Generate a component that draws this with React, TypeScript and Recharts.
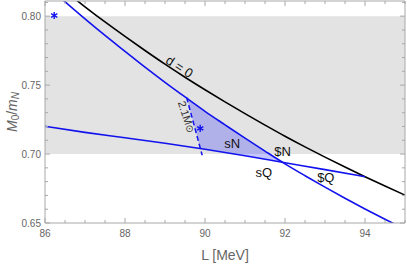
import React from 'react';
import { ComposedChart, Line, Area, Scatter, XAxis, YAxis, ReferenceArea } from 'recharts';

// ---- data ----
const xTicks = [86, 86.5, 87, 87.5, 88, 88.5, 89, 89.5, 90, 90.5, 91, 91.5, 92, 92.5, 93, 93.5, 94, 94.5, 95];
const xMajor = [86, 88, 90, 92, 94];
const yTicks = [0.65, 0.66, 0.67, 0.68, 0.69, 0.7, 0.71, 0.72, 0.73, 0.74, 0.75, 0.76, 0.77, 0.78, 0.79, 0.8, 0.81];
const yMajor = [0.65, 0.7, 0.75, 0.8];
const bandY = [0.7, 0.8];

// d = 0 curve (black)
const blackL = [86.7, 87, 87.5, 88, 88.5, 89, 89.5, 90, 90.5, 91, 91.5, 92, 92.5, 93, 93.5, 94, 94.5, 95];
const blackM = [0.8136, 0.8068, 0.7958, 0.7853, 0.7751, 0.7652, 0.7557, 0.7466, 0.7378, 0.7293, 0.721, 0.7129, 0.7052, 0.6978, 0.6906, 0.6836, 0.6768, 0.6702];

// steep blue curve
const steepL = [86.4, 87, 87.5, 88, 88.5, 89, 89.5, 90, 90.5, 91, 91.5, 92, 92.5, 93, 93.5, 94, 94.5, 95];
const steepM = [0.813, 0.798, 0.786, 0.7745, 0.763, 0.752, 0.7414, 0.731, 0.7212, 0.7115, 0.7021, 0.6929, 0.6843, 0.676, 0.668, 0.6602, 0.6527, 0.6455];

// flat blue curve (ends on the d = 0 curve)
const flatL = [86, 87, 88, 89, 90, 91, 91.93, 93, 94];
const flatM = [0.7201, 0.7157, 0.7118, 0.7078, 0.7035, 0.6988, 0.6941, 0.6887, 0.6836];

// 2.1 M_sun dashed line
const dashL = [89.54, 89.93];
const dashM = [0.7411, 0.6991];

// shaded region (lower / upper bound)
const shadeL = [89.55, 89.885, 90, 90.5, 91, 91.5, 91.93];
const shadeLo = [0.7405, 0.7041, 0.7035, 0.7012, 0.6988, 0.6963, 0.6941];
const shadeHi = [0.7405, 0.7334, 0.731, 0.7212, 0.7115, 0.7021, 0.6941];

// star markers
const starL = [86.23, 89.88];
const starM = [0.8005, 0.7186];

// text labels
const labelText = ['d = 0', '2.1M', 'sN', '$N', 'sQ', '$Q'];
const labelL = [89.36, 89.54, 90.68, 91.94, 91.47, 93.02];
const labelM = [0.7633, 0.727, 0.7078, 0.702, 0.6864, 0.6828];

// ---- styles ----
const BLUE = '#1212ee';
const FRAME = '#a8a8a8';
const TICKTXT = '#666';
const labelRotation: Record<string, number> = { 'd = 0': 33, '2.1M': 72 };
const labelSize: Record<string, number> = { '2.1M': 11 };

const pts = (xs: number[], ys: number[]) => xs.map((x, i) => ({ x, y: ys[i] }));
const blackData = pts(blackL, blackM);
const steepData = pts(steepL, steepM);
const flatData = pts(flatL, flatM);
const dashData = pts(dashL, dashM);
const starData = pts(starL, starM);
const shadeData = shadeL.map((x, i) => ({ x, range: [shadeLo[i], shadeHi[i]] }));
const labelData = labelText.map((t, i) => ({ x: labelL[i], y: labelM[i], t }));

const isMajor = (arr: number[], v: number) => arr.some((m) => Math.abs(m - v) < 1e-6);

const BottomTick = (p: any) => {
  const { x, y, payload } = p;
  const major = isMajor(xMajor, payload.value);
  return (
    <g>
      <line x1={x} x2={x} y1={y} y2={y - (major ? 5 : 3)} stroke={FRAME} />
      {major && (
        <text x={x} y={y + 14} textAnchor="middle" fontSize={10} fill={TICKTXT}>
          {payload.value}
        </text>
      )}
    </g>
  );
};
const TopTick = (p: any) => {
  const { x, y, payload } = p;
  const major = isMajor(xMajor, payload.value);
  return <line x1={x} x2={x} y1={y} y2={y + (major ? 5 : 3)} stroke={FRAME} />;
};
const LeftTick = (p: any) => {
  const { x, y, payload } = p;
  const major = isMajor(yMajor, payload.value);
  return (
    <g>
      <line x1={x} x2={x + (major ? 5 : 3)} y1={y} y2={y} stroke={FRAME} />
      {major && (
        <text x={x - 4} y={y + 3.5} textAnchor="end" fontSize={10} fill={TICKTXT}>
          {payload.value.toFixed(2)}
        </text>
      )}
    </g>
  );
};
const RightTick = (p: any) => {
  const { x, y, payload } = p;
  const major = isMajor(yMajor, payload.value);
  return <line x1={x} x2={x - (major ? 5 : 3)} y1={y} y2={y} stroke={FRAME} />;
};

const YLabel = (p: any) => {
  const vb = p.viewBox || { x: 0, y: 1, width: 45, height: 222 };
  const cx = vb.x + 12;
  const cy = vb.y + vb.height / 2;
  return (
    <text
      x={cx}
      y={cy}
      transform={`rotate(-90, ${cx}, ${cy})`}
      textAnchor="middle"
      dominantBaseline="central"
      fontSize={14}
      fill={TICKTXT}
    >
      <tspan fontStyle="italic">M</tspan>
      <tspan fontSize={10} dy={3}>0</tspan>
      <tspan dy={-3}>/</tspan>
      <tspan fontStyle="italic">m</tspan>
      <tspan fontSize={10} dy={3} fontStyle="italic">N</tspan>
    </text>
  );
};

const StarShape = (p: any) => {
  const { cx, cy } = p;
  const r = 3.6;
  const arms = [90, 30, 150];
  return (
    <g>
      {arms.map((a) => {
        const dx = r * Math.cos((a * Math.PI) / 180);
        const dy = r * Math.sin((a * Math.PI) / 180);
        return <line key={a} x1={cx - dx} y1={cy - dy} x2={cx + dx} y2={cy + dy} stroke={BLUE} strokeWidth={1.4} />;
      })}
    </g>
  );
};

const LabelShape = (p: any) => {
  const { cx, cy, payload } = p;
  const t = payload.t as string;
  const rot = labelRotation[t] || 0;
  const fs = labelSize[t] || 13;
  return (
    <text
      x={cx}
      y={cy}
      textAnchor="middle"
      dominantBaseline="central"
      fontSize={fs}
      fill={t === '2.1M' ? '#333' : '#111'}
      transform={rot ? `rotate(${rot}, ${cx}, ${cy})` : undefined}
    >
      {t}
      {t === '2.1M' && <tspan fontFamily="DejaVu Sans" fontSize={10}>⊙</tspan>}
    </text>
  );
};

export default function App() {
  return (
    <div style={{ position: 'absolute', left: 0, top: 0, fontFamily: '"Liberation Sans", Arial, sans-serif' }}>
      <ComposedChart width={407} height={264} margin={{ top: 0, right: 0, bottom: 0, left: 0 }}>
        <XAxis
          dataKey="x"
          type="number"
          domain={[86, 95]}
          ticks={xTicks}
          interval={0}
          allowDataOverflow
          height={41}
          tickSize={0}
          tickMargin={0}
          tickLine={false}
          axisLine={{ stroke: FRAME }}
          tick={(p: any) => <BottomTick {...p} />}
          label={{ value: 'L [MeV]', position: 'insideBottom', offset: 4, fill: TICKTXT, fontSize: 14 }}
        />
        <XAxis
          xAxisId="top"
          orientation="top"
          dataKey="x"
          type="number"
          domain={[86, 95]}
          ticks={xTicks}
          interval={0}
          allowDataOverflow
          height={1}
          tickSize={0}
          tickMargin={0}
          tickLine={false}
          axisLine={{ stroke: FRAME }}
          tick={(p: any) => <TopTick {...p} />}
        />
        <YAxis
          type="number"
          domain={[0.65, 0.811]}
          ticks={yTicks}
          interval={0}
          allowDataOverflow
          width={45}
          tickSize={0}
          tickMargin={0}
          tickLine={false}
          axisLine={{ stroke: FRAME }}
          tick={(p: any) => <LeftTick {...p} />}
          label={(p: any) => <YLabel {...p} />}
        />
        <YAxis
          yAxisId="right"
          orientation="right"
          type="number"
          domain={[0.65, 0.811]}
          ticks={yTicks}
          interval={0}
          allowDataOverflow
          width={2}
          tickSize={0}
          tickMargin={0}
          tickLine={false}
          axisLine={{ stroke: FRAME }}
          tick={(p: any) => <RightTick {...p} />}
        />
        <ReferenceArea x1={86} x2={95} y1={bandY[0]} y2={bandY[1]} fill="#e3e3e3" fillOpacity={1} stroke="none" />
        <Area
          data={shadeData}
          dataKey="range"
          type="linear"
          fill="#1a1aff"
          fillOpacity={0.25}
          stroke="none"
          isAnimationActive={false}
          activeDot={false}
        />
        <Line data={blackData} dataKey="y" type="monotone" stroke="#000" strokeWidth={1.6} dot={false} isAnimationActive={false} />
        <Line data={steepData} dataKey="y" type="monotone" stroke={BLUE} strokeWidth={1.6} dot={false} isAnimationActive={false} />
        <Line data={flatData} dataKey="y" type="monotone" stroke={BLUE} strokeWidth={1.6} dot={false} isAnimationActive={false} />
        <Line data={dashData} dataKey="y" type="linear" stroke={BLUE} strokeWidth={1.5} strokeDasharray="5 3" dot={false} isAnimationActive={false} />
        <Scatter data={starData} dataKey="y" shape={(p: any) => <StarShape {...p} />} isAnimationActive={false} />
        <Scatter data={labelData} dataKey="y" shape={(p: any) => <LabelShape {...p} />} isAnimationActive={false} />
      </ComposedChart>
    </div>
  );
}
